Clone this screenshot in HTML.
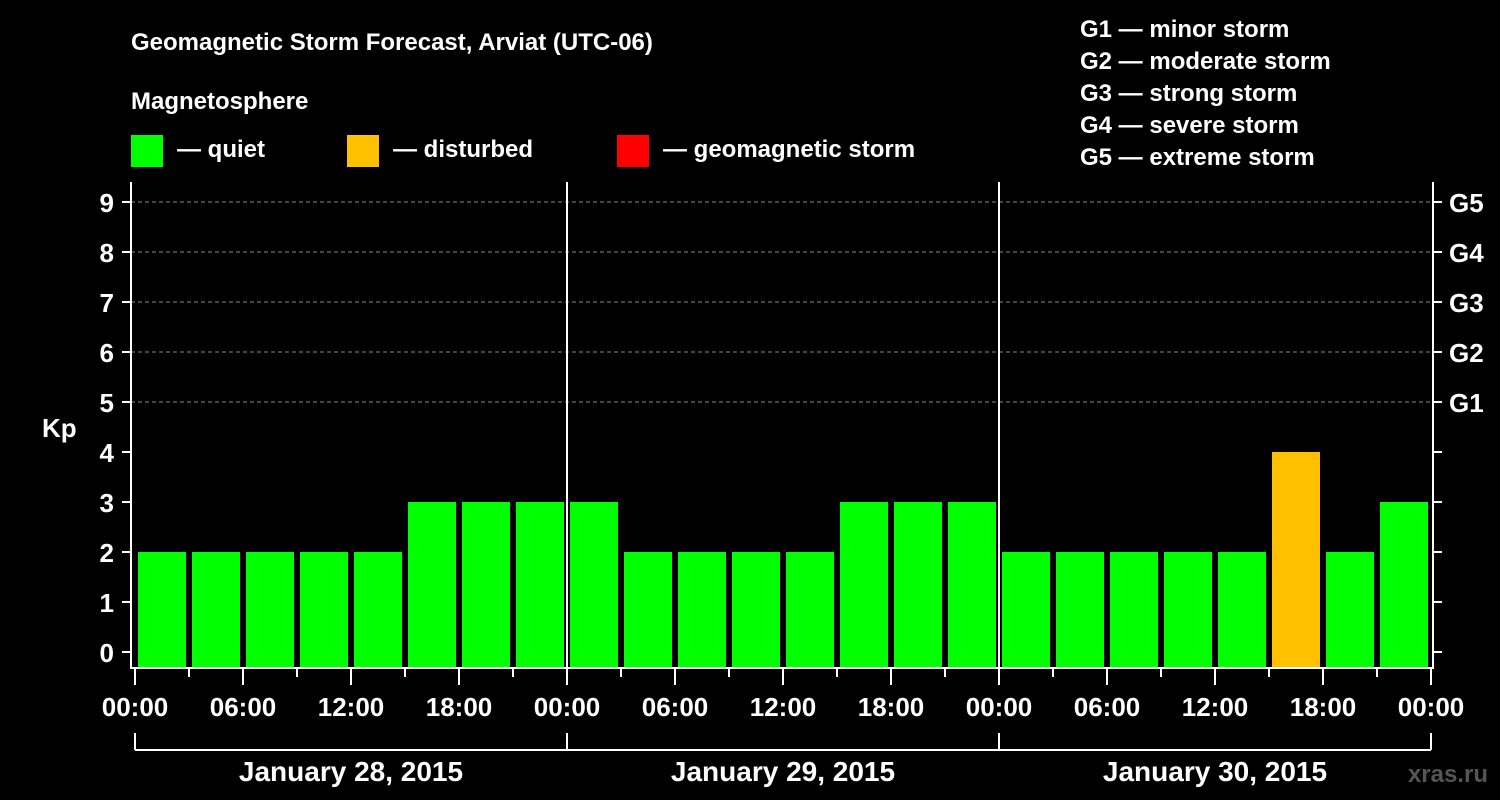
<!DOCTYPE html>
<html><head><meta charset="utf-8"><style>
body{margin:0;background:#000;}
svg{display:block;font-family:"Liberation Sans",Arial,sans-serif;font-weight:bold;}
</style></head><body>
<svg id="c" width="1500" height="800" viewBox="0 0 1500 800">
<rect width="1500" height="800" fill="#000"/>
<text x="131" y="50" fill="#fff" font-size="24">Geomagnetic Storm Forecast, Arviat (UTC-06)</text>
<text x="131" y="109" fill="#fff" font-size="24">Magnetosphere</text>
<g><rect x="131" y="135" width="32" height="32" fill="#00ff00"/><text x="177" y="157" fill="#fff" font-size="24">— quiet</text></g>
<g><rect x="347" y="135" width="32" height="32" fill="#ffc000"/><text x="393" y="157" fill="#fff" font-size="24">— disturbed</text></g>
<g><rect x="617" y="135" width="32" height="32" fill="#ff0000"/><text x="663" y="157" fill="#fff" font-size="24">— geomagnetic storm</text></g>
<g fill="#fff" font-size="24">
<text x="1080" y="37">G1 — minor storm</text><text x="1080" y="69">G2 — moderate storm</text><text x="1080" y="101">G3 — strong storm</text><text x="1080" y="133">G4 — severe storm</text><text x="1080" y="165">G5 — extreme storm</text></g>
<text x="42" y="437" fill="#fff" font-size="26">Kp</text>
<text x="1488" y="782" fill="#555" font-size="24" text-anchor="end">xras.ru</text>
<g id="grid"></g><g id="bars"></g><g id="axes"></g>
</svg>
<script>
const values=[2,2,2,2,2,3,3,3, 3,2,2,2,2,3,3,3, 2,2,2,2,2,4,2,3];
const statuses=["q","q","q","q","q","q","q","q","q","q","q","q","q","q","q","q","q","q","q","q","q","d","q","q"];
const yTicks=[0,1,2,3,4,5,6,7,8,9];
const gLabels=["G1","G2","G3","G4","G5"];
const gLevels=[5,6,7,8,9];
const timeLabels=["00:00","06:00","12:00","18:00"];
const days=["January 28, 2015","January 29, 2015","January 30, 2015"];
const NS="http://www.w3.org/2000/svg";
const x0=135,hourPx=18,L=131,R=1433,T=182,B=668;
const y=v=>652-50*v;
const xh=h=>x0+h*hourPx;
function mk(p,tag,a,txt){const e=document.createElementNS(NS,tag);for(const k in a)e.setAttribute(k,a[k]);if(txt!=null)e.textContent=txt;p.appendChild(e);return e;}
const grid=document.getElementById('grid'),bars=document.getElementById('bars'),axes=document.getElementById('axes');
gLevels.forEach((g,i)=>{
 const l=mk(grid,'line',{x1:L,x2:R,y1:y(g),y2:y(g),stroke:'#888','stroke-dasharray':'4,3','stroke-width':1});
 
 
 const t=mk(axes,'text',{x:1449,y:y(g)+10,fill:'#fff','font-size':26},gLabels[i]);
 
 
});
const col={q:'#00ff00',d:'#ffc000',s:'#ff0000'};
values.forEach((v,i)=>{
 const r=mk(bars,'rect',{x:xh(i*3)+3,y:y(v),width:48,height:B-y(v),fill:col[statuses[i]]});
 
 
});
[1,2].forEach(d=>{const l=mk(axes,'line',{x1:xh(d*24),x2:xh(d*24),y1:T,y2:B,stroke:'#fff','stroke-width':2});
 
 });
const fr=mk(axes,'path',{d:`M${L},${T}V${B}H${R}V${T}`,stroke:'#fff','stroke-width':2,fill:'none'});


yTicks.forEach(v=>{
 mk(axes,'line',{x1:122,x2:L,y1:y(v),y2:y(v),stroke:'#fff','stroke-width':2});
 mk(axes,'line',{x1:R,x2:1442,y1:y(v),y2:y(v),stroke:'#fff','stroke-width':2});
 const t=mk(axes,'text',{x:114,y:y(v)+10,fill:'#fff','font-size':26,'text-anchor':'end'},v);
 
 
});
for(let h=0;h<=72;h+=3){
 const major=h%6===0;
 mk(axes,'line',{x1:xh(h),x2:xh(h),y1:B,y2:major?685:677,stroke:'#fff','stroke-width':2});
 if(major){const t=mk(axes,'text',{x:xh(h),y:716,fill:'#fff','font-size':26,'text-anchor':'middle'},timeLabels[(h/6)%4]);
  
  }
}
mk(axes,'line',{x1:xh(0),x2:xh(72),y1:750,y2:750,stroke:'#fff','stroke-width':2});
[0,1,2,3].forEach(d=>mk(axes,'line',{x1:xh(d*24),x2:xh(d*24),y1:733,y2:750,stroke:'#fff','stroke-width':2}));
days.forEach((d,i)=>{const t=mk(axes,'text',{x:xh(i*24+12),y:781,fill:'#fff','font-size':28,'text-anchor':'middle'},d);
 
 });
</script>
</body></html>
